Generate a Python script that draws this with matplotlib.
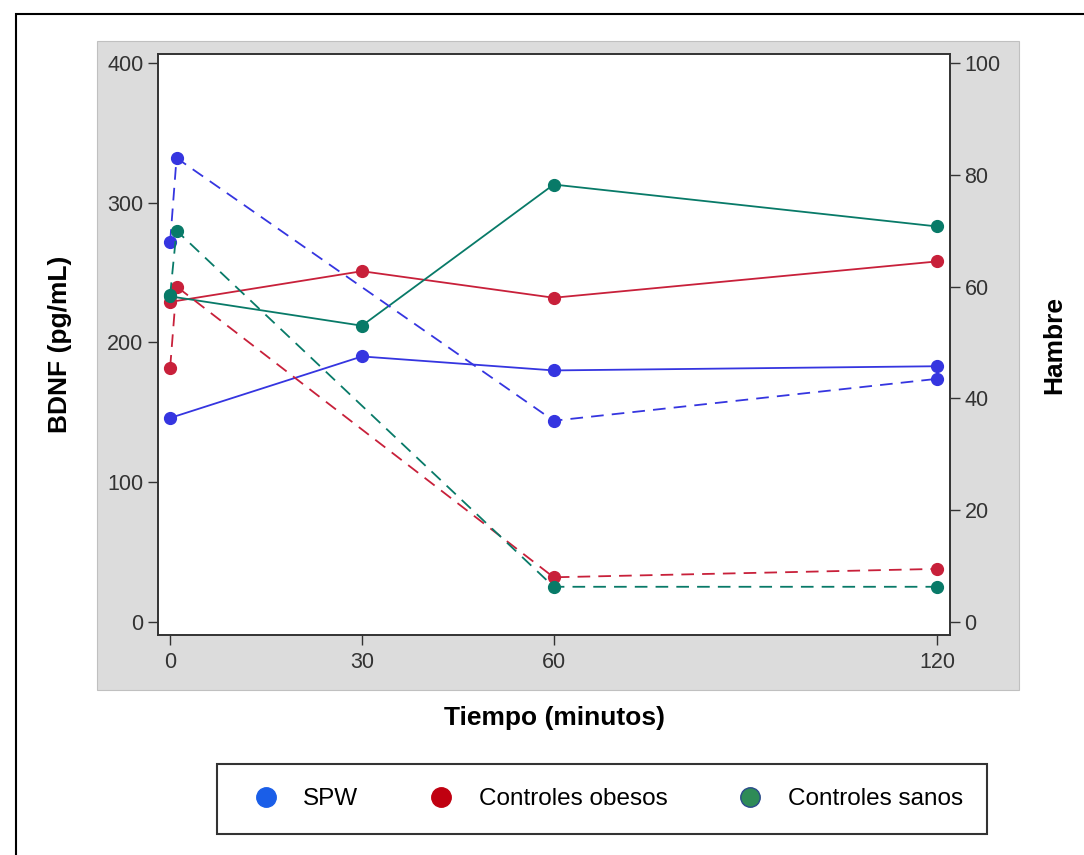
import matplotlib.pyplot as plt
from matplotlib.patches import Rectangle
from matplotlib.lines import Line2D

plt.rcParams['font.family'] = ['Liberation Sans', 'DejaVu Sans']

# BDNF (solid lines, left axis)
t_bdnf = [0, 30, 60, 120]
bdnf_spw = [146, 190, 180, 183]
bdnf_obesos = [229, 251, 232, 258]
bdnf_sanos = [233, 212, 313, 283]

# Hambre (dashed lines, right axis)
t_hambre = [0, 1, 60, 120]
hambre_spw = [68, 83, 36, 43.5]
hambre_obesos = [45.5, 60, 8, 9.5]
hambre_sanos = [58.5, 70, 6.3, 6.3]

names = ['SPW', 'Controles obesos', 'Controles sanos']
line_cols = ['#3535e0', '#c8203a', '#087a68']
legend_cols = ['#1a5ee8', '#c00010', '#2e8b57']

fig = plt.figure(figsize=(10.84, 8.55), dpi=100)
W, H = 1084, 855

# outer frame and grey panel
fig.patches.append(Rectangle((16 / W, -0.1), 1.2, (H - 14) / H + 0.1, transform=fig.transFigure,
                             fill=False, ec='black', lw=1.5, zorder=-2))
fig.patches.append(Rectangle((97 / W, (H - 690) / H), (1019 - 97) / W, (690 - 41) / H,
                             transform=fig.transFigure, fc='#dcdcdc', ec='#c0c0c0', lw=0.8,
                             zorder=-1))

ax = fig.add_axes([158 / W, (H - 635) / H, (950 - 158) / W, (635 - 54) / H])
ax2 = ax.twinx()

bd = [bdnf_spw, bdnf_obesos, bdnf_sanos]
hb = [hambre_spw, hambre_obesos, hambre_sanos]
for i in range(3):
    ax.plot(t_bdnf, bd[i], '-', color=line_cols[i], lw=1.3, marker='o', ms=8.5)
    ax2.plot(t_hambre, hb[i], color=line_cols[i], lw=1.3, ls=(0, (7, 4.5)),
             marker='o', ms=8.5)

ax.set_xlim(-1.9, 122)
ax.set_ylim(-9.3, 406.4)
ax2.set_ylim(-9.3 / 4, 406.4 / 4)
ax.set_xticks([0, 30, 60, 120])
ax.set_yticks([0, 100, 200, 300, 400])
ax2.set_yticks([0, 20, 40, 60, 80, 100])
for a in (ax, ax2):
    a.tick_params(labelsize=15.5, length=7, width=1, colors='#333333', labelcolor='#333333')
    for s in a.spines.values():
        s.set_color('#333333')
        s.set_linewidth(1.2)
ax.tick_params(axis='x', pad=5)

ax.set_ylabel('BDNF (pg/mL)', fontsize=19, fontweight='bold', labelpad=25)
ax2.set_ylabel('Hambre', fontsize=19, fontweight='bold', labelpad=30, rotation=90)
ax.set_xlabel('Tiempo (minutos)', fontsize=19, fontweight='bold', labelpad=24)

handles = [Line2D([], [], ls='none', marker='o', ms=14, mfc=legend_cols[i],
                  mec='#2a4a8a' if i == 2 else legend_cols[i]) for i in range(3)]
leg = fig.legend(handles, names, loc='center', bbox_to_anchor=(602 / W, (H - 799) / H),
                 ncol=3, frameon=True, fontsize=17.5, handletextpad=0.55, columnspacing=2.4,
                 borderpad=1.0, fancybox=False, edgecolor='black')
leg.get_frame().set_linewidth(1.5)

fig.savefig('out.png', dpi=100)
